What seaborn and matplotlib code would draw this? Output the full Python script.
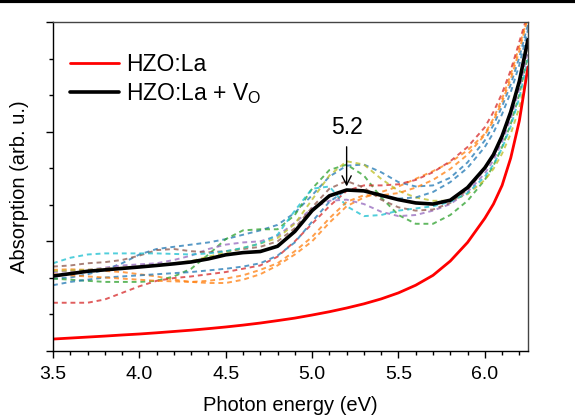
import numpy as np
import pandas as pd
import matplotlib
matplotlib.use("Agg")
import matplotlib.pyplot as plt
from matplotlib.lines import Line2D
from matplotlib.ticker import MultipleLocator
import seaborn as sns

# ---------------- data ----------------
energy = [3.5, 3.6, 3.7, 3.8, 3.9, 4.0, 4.1, 4.2, 4.3, 4.4, 4.5, 4.6, 4.7, 4.8,
          4.9, 5.0, 5.1, 5.2, 5.3, 5.4, 5.5, 5.6, 5.7, 5.8, 5.9, 6.0, 6.05, 6.1,
          6.15, 6.2, 6.25]

hzo_la = [0.109, 0.118, 0.127, 0.136, 0.146, 0.155, 0.166, 0.178, 0.19, 0.204,
          0.219, 0.236, 0.255, 0.277, 0.30, 0.328, 0.358, 0.392, 0.43, 0.475,
          0.53, 0.60, 0.69, 0.82, 0.99, 1.21, 1.34, 1.51, 1.76, 2.10, 2.59]
hzo_la_vo = [0.684, 0.705, 0.727, 0.740, 0.753, 0.766, 0.780, 0.795, 0.812, 0.84,
             0.877, 0.897, 0.907, 0.955, 1.09, 1.28, 1.415, 1.468, 1.46, 1.42,
             1.38, 1.35, 1.34, 1.375, 1.49, 1.67, 1.79, 1.96, 2.18, 2.46, 2.84]

conf_blue = [0.66, 0.67, 0.70, 0.74, 0.80, 0.88, 0.93, 0.95, 0.97, 0.99, 1.02,
             1.06, 1.10, 1.15, 1.26, 1.42, 1.59, 1.69, 1.70, 1.63, 1.54, 1.50,
             1.51, 1.58, 1.72, 1.92, 2.06, 2.23, 2.43, 2.68, 2.98]
conf_orange = [0.74, 0.745, 0.74, 0.73, 0.72, 0.70, 0.68, 0.65, 0.63, 0.62, 0.62,
               0.65, 0.70, 0.78, 0.88, 1.00, 1.17, 1.32, 1.40, 1.45, 1.50, 1.57,
               1.64, 1.72, 1.83, 1.98, 2.12, 2.30, 2.52, 2.78, 3.05]
conf_green = [0.66, 0.65, 0.64, 0.63, 0.63, 0.63, 0.64, 0.68, 0.75, 0.88, 1.02,
              1.10, 1.11, 1.11, 1.24, 1.48, 1.65, 1.70, 1.60, 1.40, 1.24, 1.16,
              1.16, 1.24, 1.37, 1.56, 1.69, 1.86, 2.07, 2.34, 2.70]
conf_red = [0.44, 0.44, 0.44, 0.47, 0.53, 0.59, 0.64, 0.665, 0.68, 0.70, 0.72,
            0.75, 0.78, 0.86, 1.00, 1.16, 1.32, 1.46, 1.51, 1.51, 1.52, 1.56,
            1.63, 1.73, 1.86, 2.04, 2.18, 2.35, 2.56, 2.82, 3.08]
conf_purple = [0.72, 0.73, 0.74, 0.76, 0.78, 0.79, 0.80, 0.83, 0.87, 0.93, 0.97,
               0.99, 1.00, 1.05, 1.17, 1.30, 1.37, 1.38, 1.34, 1.27, 1.23, 1.24,
               1.28, 1.34, 1.45, 1.62, 1.74, 1.91, 2.12, 2.39, 2.74]
conf_brown = [0.77, 0.78, 0.80, 0.81, 0.83, 0.87, 0.92, 0.93, 0.91, 0.90, 0.91,
              0.93, 0.95, 1.00, 1.12, 1.31, 1.48, 1.55, 1.49, 1.38, 1.31, 1.28,
              1.29, 1.35, 1.47, 1.66, 1.79, 1.96, 2.18, 2.46, 2.80]
conf_olive = [0.73, 0.735, 0.74, 0.75, 0.76, 0.77, 0.78, 0.80, 0.82, 0.86, 0.90,
              0.94, 0.98, 1.03, 1.16, 1.38, 1.60, 1.73, 1.70, 1.57, 1.46, 1.40,
              1.37, 1.37, 1.43, 1.56, 1.66, 1.80, 1.98, 2.22, 2.58]
conf_cyan = [0.80, 0.85, 0.88, 0.89, 0.89, 0.89, 0.89, 0.885, 0.88, 0.89, 0.91,
             0.94, 0.98, 1.06, 1.28, 1.48, 1.50, 1.32, 1.23, 1.24, 1.28, 1.30,
             1.32, 1.36, 1.44, 1.59, 1.70, 1.85, 2.05, 2.31, 2.66]
conf_blue2 = [0.60, 0.63, 0.65, 0.67, 0.68, 0.69, 0.70, 0.71, 0.72, 0.735, 0.75,
              0.77, 0.80, 0.87, 0.99, 1.18, 1.36, 1.47, 1.46, 1.41, 1.39, 1.40,
              1.45, 1.54, 1.67, 1.86, 1.99, 2.16, 2.36, 2.61, 2.93]
conf_orange2 = [0.70, 0.69, 0.68, 0.67, 0.66, 0.65, 0.64, 0.635, 0.63, 0.64, 0.66,
                0.69, 0.74, 0.80, 0.91, 1.04, 1.21, 1.36, 1.42, 1.42, 1.44, 1.49,
                1.56, 1.66, 1.79, 1.97, 2.10, 2.27, 2.48, 2.74, 3.05]

configs = {
    "c1": conf_blue, "c2": conf_orange, "c3": conf_green, "c4": conf_red,
    "c5": conf_purple, "c6": conf_brown, "c7": conf_olive, "c8": conf_cyan,
    "c9": conf_blue2, "c10": conf_orange2,
}
config_colors = ["#1f77b4", "#ff7f0e", "#2ca02c", "#d62728", "#9467bd",
                 "#8c564b", "#bcbd22", "#17becf", "#1f77b4", "#ff7f0e"]

peak_label = "5.2"
peak_x = 5.2

# ---------------- style ----------------
sns.set_theme(style="ticks")
plt.rcParams["font.family"] = ["Liberation Sans", "DejaVu Sans"]
plt.rcParams["mathtext.fontset"] = "custom"
plt.rcParams["mathtext.rm"] = "Liberation Sans"
plt.rcParams["text.color"] = "black"
plt.rcParams["axes.labelcolor"] = "black"

fig = plt.figure(figsize=(5.75, 4.16), dpi=100)
ax = fig.add_axes([53 / 575, 1 - 351 / 416, (528 - 53) / 575, (351 - 22) / 416])

long = pd.DataFrame(
    [(e, v, k) for k, vals in configs.items() for e, v in zip(energy, vals)],
    columns=["energy", "abs", "cfg"],
)
sns.lineplot(data=long, x="energy", y="abs", hue="cfg", palette=config_colors,
             estimator=None, sort=False, linewidth=1.4, alpha=0.75,
             legend=False, ax=ax)
for ln in ax.get_lines():
    ln.set_linestyle((0, (2.5, 2.0)))

sns.lineplot(x=energy, y=hzo_la, color="#ff0000", linewidth=2.0, ax=ax,
             label="HZO:La", estimator=None, sort=False)
sns.lineplot(x=energy, y=hzo_la_vo, color="black", linewidth=2.6, ax=ax,
             label=r"HZO:La + V$_\mathrm{O}$", estimator=None, sort=False)

ax.set_xlim(3.5, 6.25)
ax.set_ylim(0, 3.0)
ax.xaxis.set_major_locator(MultipleLocator(0.5))
ax.xaxis.set_minor_locator(MultipleLocator(0.1))
ax.yaxis.set_major_locator(MultipleLocator(1.0))
ax.yaxis.set_minor_locator(MultipleLocator(1 / 3))
ax.tick_params(axis="both", which="major", direction="out", length=5, width=1,
               color="black", labelsize=14, labelcolor="black", pad=6)
ax.tick_params(axis="both", which="minor", direction="out", length=3, width=1,
               color="black")
ax.tick_params(axis="y", which="both", labelleft=False)
ax.set_xticks([3.5, 4.0, 4.5, 5.0, 5.5, 6.0])
ax.set_xticklabels(["3.5", "4.0", "4.5", "5.0", "5.5", "6.0"])
for s in ax.spines.values():
    s.set_visible(True)
    s.set_linewidth(1.0)
    s.set_color("black")
ax.spines["top"].set_color("#444444")
ax.spines["right"].set_color("#444444")

ax.set_xlabel("Photon energy (eV)", fontsize=14.5, color="black", labelpad=9)
ax.set_ylabel("Absorption (arb. u.)", fontsize=14.5, color="black", labelpad=12)

leg = ax.legend(loc="upper left", bbox_to_anchor=(0.036, 0.905), frameon=False,
                fontsize=16.5, handlelength=2.15, handletextpad=0.3,
                labelspacing=0.2, borderaxespad=0.0, borderpad=0.0)

ax.annotate(peak_label, xy=(peak_x, 1.50), xytext=(peak_x, 1.93),
            ha="center", va="bottom", fontsize=16.5, color="black",
            arrowprops=dict(arrowstyle="->", color="black", lw=1.0,
                            shrinkA=3, shrinkB=0))

fig.add_artist(Line2D([0, 1], [0.9965, 0.9965], transform=fig.transFigure,
                      color="black", linewidth=3))

fig.savefig("out.png", dpi=100)
